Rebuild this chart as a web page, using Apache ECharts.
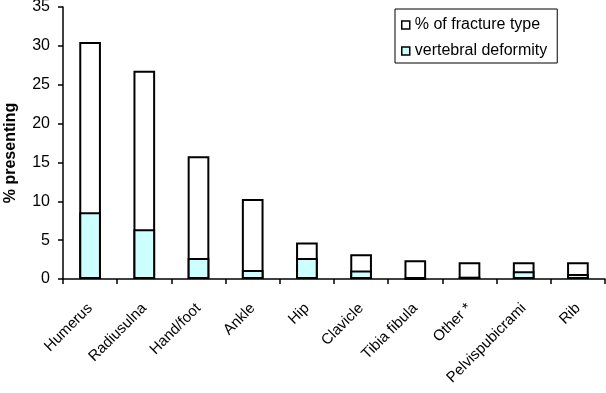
<!DOCTYPE html>
<html>
<head>
<meta charset="utf-8">
<script src="https://cdn.jsdelivr.net/npm/echarts@6/dist/echarts.min.js"></script>
<style>
  html, body { margin: 0; padding: 0; background: #fff; }
  #chart { width: 606px; height: 393px; }
</style>
</head>
<body>
<div id="chart"></div>
<script>
const categories = ['Humerus', 'Radiusulna', 'Hand/foot', 'Ankle', 'Hip', 'Clavicle', 'Tibia fibula', 'Other *', 'Pelvispubicrami', 'Rib']
const fractureType = [30.5, 26.8, 15.8, 10.3, 4.7, 3.2, 2.4, 2.15, 2.15, 2.15]
const vertebralDeformity = [8.6, 6.4, 2.7, 1.15, 2.7, 1.1, 0, 0.3, 1.0, 0.65]
const yTicks = [0, 5, 10, 15, 20, 25, 30, 35]

const font = 'Liberation Sans, Arial, sans-serif'
const chart = echarts.init(document.getElementById('chart'))

const option = {
  animation: false,
  textStyle: { fontFamily: font },
  legend: {
    orient: 'vertical',
    left: 395,
    top: 9,
    padding: [8, 10, 4, 6],
    itemGap: 10,
    itemWidth: 8,
    itemHeight: 8,
    borderColor: '#000',
    borderWidth: 1,
    icon: 'rect',
    itemStyle: { borderColor: '#000', borderWidth: 1.5 },
    textStyle: { color: '#000', fontSize: 16, fontFamily: font },
    data: ['% of fracture type', 'vertebral deformity']
  },
  grid: { left: 63, right: 1, top: 7, bottom: 114, containLabel: false, outerBoundsMode: 'none' },
  xAxis: {
    type: 'category',
    data: categories,
    axisLine: { lineStyle: { color: '#000', width: 1.5 } },
    axisTick: { show: true, length: 5, lineStyle: { color: '#000', width: 1.5 } },
    axisLabel: { color: '#000', fontSize: 15, rotate: 45, interval: 0, margin: 27, fontFamily: font }
  },
  yAxis: {
    type: 'value',
    min: 0,
    max: yTicks[yTicks.length - 1],
    interval: 5,
    name: '% presenting',
    nameLocation: 'middle',
    nameGap: 44,
    nameTextStyle: { color: '#000', fontSize: 16, fontWeight: 'bold', fontFamily: font, padding: [0, 20, 0, 0] },
    axisLine: { show: true, lineStyle: { color: '#000', width: 1.5 } },
    axisTick: { show: true, length: 5, lineStyle: { color: '#000', width: 1.5 } },
    axisLabel: { color: '#000', fontSize: 16, margin: 13, fontFamily: font },
    splitLine: { show: false }
  },
  series: [
    {
      name: '% of fracture type',
      type: 'bar',
      data: fractureType,
      barWidth: '40%',
      barGap: '-100%',
      itemStyle: { color: '#fff', borderColor: '#000', borderWidth: 2 }
    },
    {
      name: 'vertebral deformity',
      type: 'bar',
      data: vertebralDeformity,
      barWidth: '40%',
      barGap: '-100%',
      itemStyle: { color: '#ccffff', borderColor: '#000', borderWidth: 2 }
    }
  ]
}

chart.setOption(option)
</script>
</body>
</html>
